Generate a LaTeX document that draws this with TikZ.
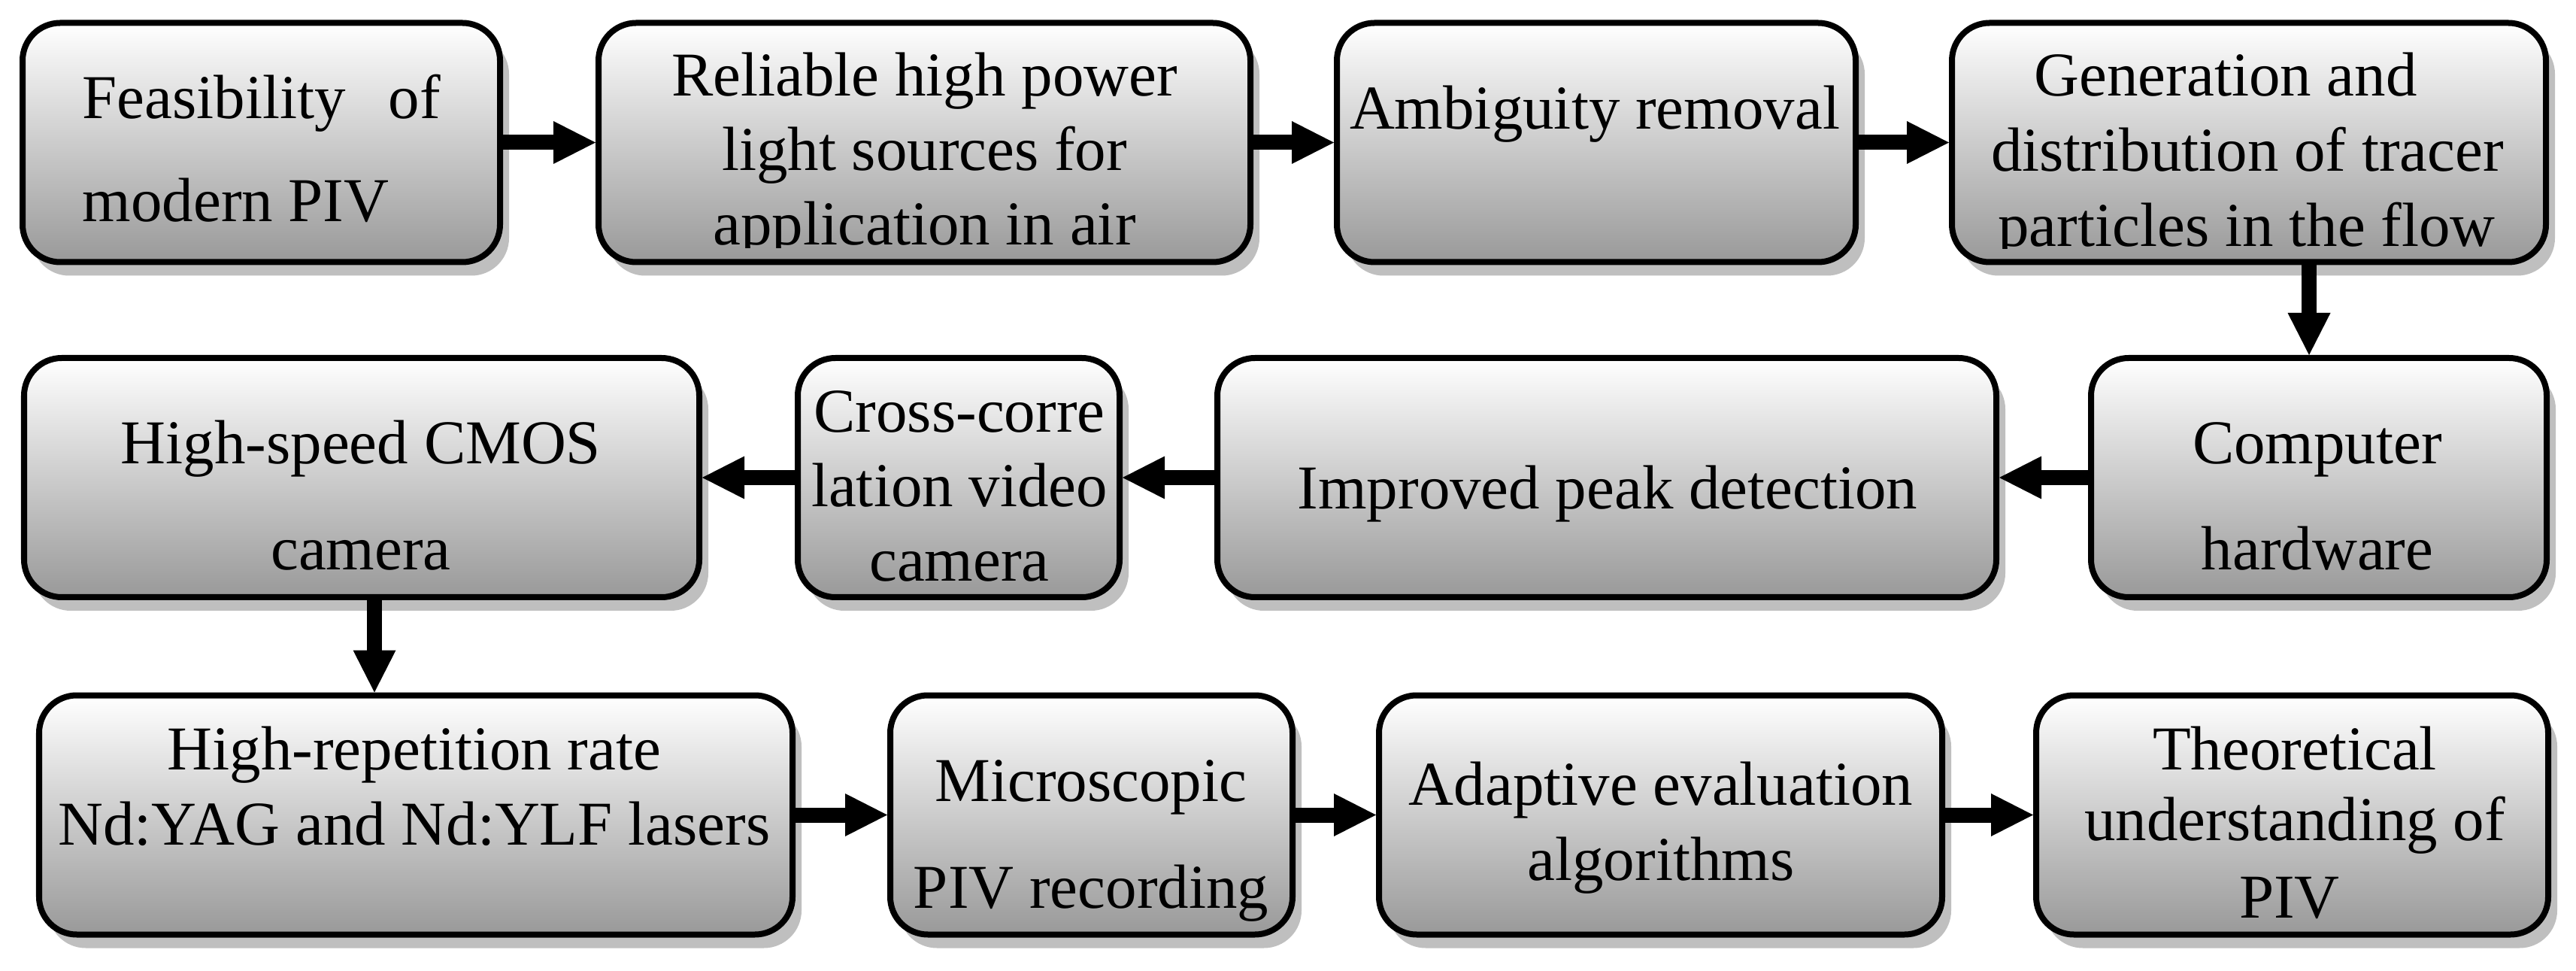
\documentclass[tikz,border=0pt]{standalone}
\usepackage{fontspec}
\setmainfont{Liberation Serif}
\usetikzlibrary{arrows.meta,shadows}
\begin{document}
\begin{tikzpicture}[
  stagebox/.style={draw=black, line width=0.08cm, rounded corners=0.5cm,
    top color=white, bottom color=black!40, minimum height=3.18cm, inner sep=0pt,
    drop shadow={shadow xshift=0.12cm, shadow yshift=-0.18cm, fill=black!25, opacity=1}},
  txt/.style={font=\fontsize{23.6}{28}\selectfont, inner sep=0pt, anchor=base},
  arr/.style={line width=0.2cm, -{Triangle[length=0.56cm, width=0.57cm, line width=0pt]}}
]
\useasboundingbox (0,0) rectangle (34.26,-12.91);
% row 1
\node[stagebox, minimum width=6.35cm] (b1) at (3.475,-1.895) {};
\node[stagebox, minimum width=8.67cm] (b2) at (12.295,-1.895) {};
\node[stagebox, minimum width=6.90cm] (b3) at (21.23,-1.895) {};
\node[stagebox, minimum width=7.90cm] (b4) at (29.91,-1.895) {};
% row 2
\node[stagebox, minimum width=8.98cm] (b5) at (4.81,-6.35) {};
\node[stagebox, minimum width=4.28cm] (b6) at (12.75,-6.35) {};
\node[stagebox, minimum width=10.36cm] (b7) at (21.37,-6.35) {};
\node[stagebox, minimum width=6.06cm] (b8) at (30.84,-6.35) {};
% row 3
\node[stagebox, minimum width=10.02cm] (b9) at (5.53,-10.835) {};
\node[stagebox, minimum width=5.35cm] (b10) at (14.515,-10.835) {};
\node[stagebox, minimum width=7.49cm] (b11) at (22.085,-10.835) {};
\node[stagebox, minimum width=6.81cm] (b12) at (30.485,-10.835) {};

% texts
\node[txt, anchor=base west] (t1a) at (1.09,-1.58) {\makebox[4.76cm][l]{Feasibility\hfill of}};
\node[txt, anchor=base west] (t1b) at (1.09,-2.95) {modern PIV};
\node[txt] (t2a) at (12.295,-1.28) {Reliable high power};
\node[txt] (t2b) at (12.295,-2.27) {light sources for};
\begin{scope}
  \clip (7.9,-0.3) rectangle (16.7,-3.30);
  \node[txt] (t2c) at (12.295,-3.26) {application in air};
\end{scope}
\node[txt] (t3) at (21.21,-1.72) {Ambiguity removal};
\node[txt] (t4a) at (29.60,-1.28) {Generation and};
\node[txt] (t4b) at (29.89,-2.28) {distribution of tracer};
\begin{scope}
  \clip (25.9,-0.3) rectangle (33.9,-3.31);
  \node[txt] (t4c) at (29.88,-3.28) {particles in the flow};
\end{scope}
\node[txt] (t5a) at (4.80,-6.17) {High-speed CMOS};
\node[txt] (t5b) at (4.80,-7.57) {camera};
\node[txt] (t6a) at (12.76,-5.75) {Cross-corre};
\node[txt] (t6b) at (12.76,-6.74) {lation video};
\node[txt] (t6c) at (12.76,-7.73) {camera};
\node[txt] (t7) at (21.38,-6.77) {Improved peak detection};
\node[txt] (t8a) at (30.82,-6.17) {Computer};
\node[txt] (t8b) at (30.82,-7.57) {hardware};
\node[txt] (t9a) at (5.51,-10.23) {High-repetition rate};
\node[txt] (t9b) at (5.51,-11.23) {Nd:YAG and Nd:YLF lasers};
\node[txt] (t10a) at (14.51,-10.65) {Microscopic};
\node[txt] (t10b) at (14.51,-12.07) {PIV recording};
\node[txt] (t11a) at (22.09,-10.70) {Adaptive evaluation};
\node[txt] (t11b) at (22.09,-11.70) {algorithms};
\node[txt] (t12a) at (30.52,-10.23) {Theoretical};
\node[txt] (t12b) at (30.52,-11.17) {understanding of};
\node[txt] (t12c) at (30.45,-12.20) {PIV};

% connectors
\draw[arr] (b1) -- (b2);
\draw[arr] (b2) -- (b3);
\draw[arr] (b3) -- (b4);
\coordinate (v1) at ([xshift=-0.13cm]b8.north);
\draw[arr] (b4.south -| v1) -- (v1);
\draw[arr] (b8) -- (b7);
\draw[arr] (b7) -- (b6);
\draw[arr] (b6) -- (b5);
\coordinate (v2) at ([xshift=0.17cm]b5.south);
\draw[arr] (v2) -- (v2 |- b9.north);
\draw[arr] (b9) -- (b10);
\draw[arr] (b10) -- (b11);
\draw[arr] (b11) -- (b12);
\end{tikzpicture}
\end{document}
